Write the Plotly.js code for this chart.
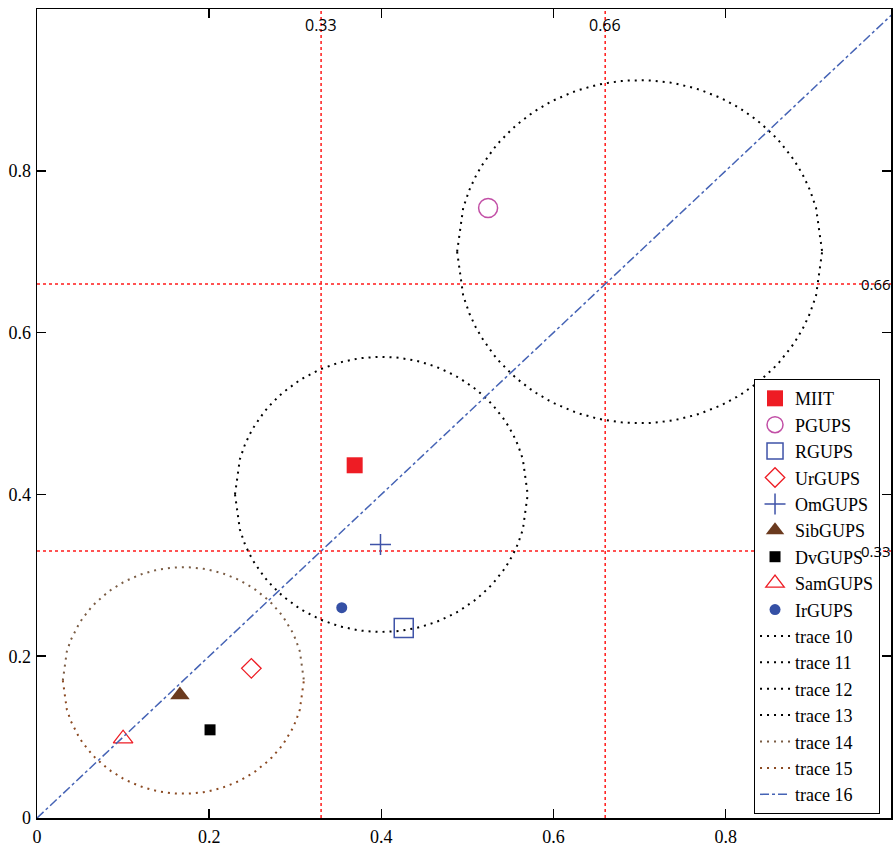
<!DOCTYPE html>
<html>
<head>
<meta charset="utf-8">
<script src="https://cdn.plot.ly/plotly-3.0.1.min.js"></script>
<style>html,body{margin:0;padding:0;background:#fff;}#chart{width:896px;height:846px;}</style>
</head>
<body>
<div id="chart"></div>
<script>
// University points
const names = ["MIIT","PGUPS","RGUPS","UrGUPS","OmGUPS","SibGUPS","DvGUPS","SamGUPS","IrGUPS"];
const xVals = [0.369, 0.524, 0.426, 0.249, 0.399, 0.166, 0.201, 0.100, 0.354];
const yVals = [0.436, 0.754, 0.235, 0.185, 0.338, 0.152, 0.109, 0.098, 0.260];

// Dotted circles (each drawn as upper + lower half traces)
const circleCx = [0.70, 0.40, 0.17];
const circleCy = [0.70, 0.40, 0.17];
const circleR  = [0.212, 0.170, 0.140];

// Diagonal line (trace 16)
const diagX = [0, 1];
const diagY = [0, 1];

// Red marker lines
const markerVals = [0.33, 0.66];
const markerLabels = ["0.33", "0.66"];

// Axis ticks
const tickVals = [0, 0.2, 0.4, 0.6, 0.8];
const tickText = ["0", "0.2", "0.4", "0.6", "0.8"];

const markerStyles = [
  {symbol: "square", size: 16, color: "#ee1c24", line: {width: 0}},
  {symbol: "circle-open", size: 19, color: "#c24fa6", line: {width: 1.5}},
  {symbol: "square-open", size: 19, color: "#3f53a8", line: {width: 1.5}},
  {symbol: "diamond-open", size: 15, color: "#ee1c24", line: {width: 1.3}},
  {symbol: "cross-thin-open", size: 15, color: "#3f53a8", line: {width: 1.5}},
  {symbol: "triangle-up", size: 17, color: "#6b3a1e", line: {width: 0}},
  {symbol: "square", size: 11, color: "#000000", line: {width: 0}},
  {symbol: "triangle-up-open", size: 17, color: "#ee1c24", line: {width: 1.3}},
  {symbol: "circle", size: 11, color: "#3550a5", line: {width: 0}}
];

const traces = [];
names.forEach((n, i) => {
  const s = markerStyles[i];
  traces.push({
    type: "scatter", mode: "markers", name: n,
    x: [xVals[i]], y: [yVals[i]],
    marker: {symbol: s.symbol, size: s.size, color: s.color,
             line: {color: s.color, width: s.line.width}}
  });
});

const circleColors = [["#000000","#000000"],["#000000","#000000"],["#7a5c44","#8b4a22"]];
let traceNo = 10;
const N = 60;
circleCx.forEach((cx, c) => {
  const cy = circleCy[c], r = circleR[c];
  [1, -1].forEach((sign, h) => {
    const xs = [], ys = [];
    for (let k = 0; k <= N; k++) {
      const x = cx - r + (2 * r * k) / N;
      const d = r * r - (x - cx) * (x - cx);
      xs.push(x);
      ys.push(cy + sign * Math.sqrt(Math.max(d, 0)));
    }
    traces.push({
      type: "scatter", mode: "lines", name: "trace " + traceNo,
      x: xs, y: ys,
      line: {color: circleColors[c][h], width: 2, dash: "2px,5px"}
    });
    traceNo++;
  });
});

traces.push({
  type: "scatter", mode: "lines", name: "trace 16",
  x: diagX, y: diagY,
  line: {color: "#4563b5", width: 1.5, dash: "dashdot"}
});

const shapes = [];
markerVals.forEach(v => {
  shapes.push({type: "line", xref: "x", yref: "paper", x0: v, x1: v, y0: 0, y1: 1,
    line: {color: "#ff1a1a", width: 1.5, dash: "3px,3px"}, layer: "below"});
  shapes.push({type: "line", xref: "paper", yref: "y", x0: 0, x1: 1, y0: v, y1: v,
    line: {color: "#ff1a1a", width: 1.5, dash: "3px,3px"}, layer: "below"});
});

const annotations = [];
markerVals.forEach((v, i) => {
  annotations.push({xref: "x", yref: "paper", x: v, y: 1, yanchor: "top", xanchor: "center",
    yshift: -3, text: markerLabels[i], showarrow: false,
    font: {family: "Open Sans, sans-serif", size: 16, color: "#000"}});
  annotations.push({xref: "paper", yref: "y", x: 0.963, y: v, xanchor: "left", yanchor: "middle",
    text: markerLabels[i], showarrow: false,
    font: {family: "Open Sans, sans-serif", size: 15, color: "#000"}});
});

const axisCommon = {
  showgrid: false, zeroline: false, showline: true, linecolor: "#000", linewidth: 1.5,
  mirror: "ticks", ticks: "inside", ticklen: 9, tickwidth: 1.5, tickcolor: "#000",
  tickvals: tickVals, ticktext: tickText,
  tickfont: {family: "Liberation Serif, Times New Roman, serif", size: 18, color: "#000"}
};

const layout = {
  width: 896, height: 846,
  margin: {l: 37, r: 5, t: 9, b: 28},
  paper_bgcolor: "#fff", plot_bgcolor: "#fff",
  xaxis: Object.assign({}, axisCommon, {range: [0, 0.992], ticklabelstandoff: 2}),
  yaxis: Object.assign({}, axisCommon, {range: [0, 1.0], ticklabelstandoff: 1}),
  showlegend: true,
  legend: {
    x: 0.8396, y: 0.5425, xanchor: "left", yanchor: "top",
    bgcolor: "#fff", bordercolor: "#000", borderwidth: 1,
    font: {family: "Liberation Serif, Times New Roman, serif", size: 18, color: "#000"},
    itemsizing: "trace", tracegroupgap: 0
  },
  shapes: shapes,
  annotations: annotations
};

Plotly.newPlot("chart", traces, layout, {displayModeBar: false, staticPlot: true});
</script>
</body>
</html>
